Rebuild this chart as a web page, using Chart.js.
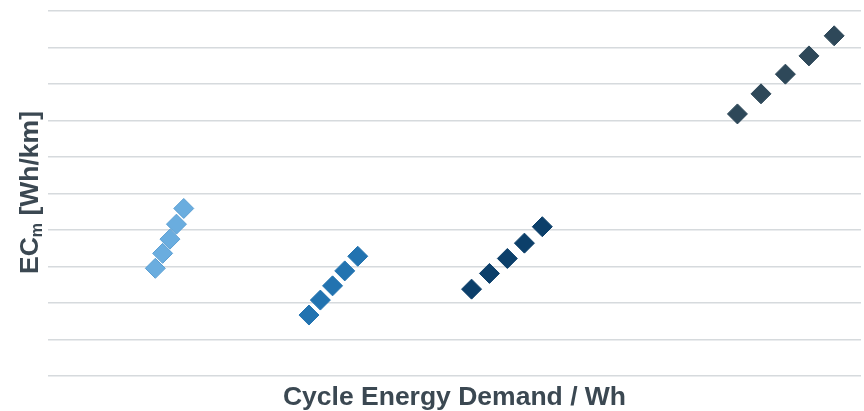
<!DOCTYPE html>
<html>
<head>
<meta charset="utf-8">
<script src="https://cdn.jsdelivr.net/npm/chart.js@4.4.1/dist/chart.umd.min.js"></script>
<style>
  html, body { margin: 0; padding: 0; background: #ffffff; }
  #wrap { width: 864px; height: 411px; position: relative; }
</style>
</head>
<body>
<div id="wrap"><canvas id="chart"></canvas></div>
<script>
// Measurement groups: cycle energy demand (x) vs. EC_m (y), arbitrary units
const seriesNames = ['Group A', 'Group B', 'Group C', 'Group D'];
const groupAx = [13.2, 14.1, 15.0, 15.8, 16.7];
const groupAy = [2.95, 3.36, 3.75, 4.16, 4.59];
const groupBx = [32.1, 33.5, 35.0, 36.5, 38.1];
const groupBy = [1.67, 2.08, 2.47, 2.88, 3.28];
const groupCx = [52.1, 54.3, 56.5, 58.6, 60.8];
const groupCy = [2.38, 2.81, 3.22, 3.64, 4.09];
const groupDx = [84.8, 87.7, 90.7, 93.6, 96.7];
const groupDy = [7.18, 7.73, 8.27, 8.77, 9.32];

const xTitle = 'Cycle Energy Demand / Wh';
const yTitleMain = 'EC';
const yTitleSub = 'm';
const yTitleUnit = ' [Wh/km]';

const fills = ['#6aaddf', '#2273b0', '#0c3f6a', '#2e4859'];
const borders = ['#5c9fd3', '#2273b0', '#0c3f6a', '#2e4859'];

function pts(xs, ys) { return xs.map((x, i) => ({ x: x, y: ys[i] })); }

const groups = [
  pts(groupAx, groupAy),
  pts(groupBx, groupBy),
  pts(groupCx, groupCy),
  pts(groupDx, groupDy)
];

const titleColor = '#3b4852';
const titleFont = 'bold 26.5px "Liberation Sans", Arial, sans-serif';
const subFont = 'bold 16px "Liberation Sans", Arial, sans-serif';

// Axis titles drawn directly so the y title can carry a subscript
const axisTitles = {
  id: 'axisTitles',
  afterDraw(chart) {
    const ctx = chart.ctx;
    const area = chart.chartArea;
    ctx.save();
    ctx.fillStyle = titleColor;
    ctx.font = titleFont;
    ctx.textAlign = 'center';
    ctx.textBaseline = 'alphabetic';
    ctx.fillText(xTitle, (area.left + area.right) / 2, 405);

    // rotated y title
    ctx.font = titleFont;
    const w1 = ctx.measureText(yTitleMain).width;
    const w3 = ctx.measureText(yTitleUnit).width;
    ctx.font = subFont;
    const w2 = ctx.measureText(yTitleSub).width;
    const total = w1 + w2 + w3;
    ctx.translate(38, (area.top + area.bottom) / 2 - 1);
    ctx.rotate(-Math.PI / 2);
    ctx.textAlign = 'left';
    let x = -total / 2;
    ctx.font = titleFont;
    ctx.fillText(yTitleMain, x, 0);
    x += w1;
    ctx.font = subFont;
    ctx.fillText(yTitleSub, x, 4);
    x += w2;
    ctx.font = titleFont;
    ctx.fillText(yTitleUnit, x, 0);
    ctx.restore();
  }
};

new Chart(document.getElementById('chart'), {
  type: 'scatter',
  data: {
    datasets: groups.map((g, i) => ({
      label: seriesNames[i],
      data: g,
      pointStyle: 'rectRot',
      pointRadius: 10,
      pointHoverRadius: 10,
      backgroundColor: fills[i],
      borderColor: borders[i],
      borderWidth: 1
    }))
  },
  options: {
    responsive: true,
    maintainAspectRatio: false,
    animation: false,
    layout: { autoPadding: false, padding: { left: 48, top: 11, right: 3, bottom: 35 } },
    plugins: {
      legend: { display: false },
      tooltip: { enabled: false }
    },
    scales: {
      x: {
        type: 'linear',
        display: false,
        min: 0,
        max: 100
      },
      y: {
        min: 0,
        max: 10,
        ticks: { display: false, stepSize: 1 },
        grid: { color: '#d6dadd', lineWidth: 1.5, drawTicks: false },
        border: { display: false },
        title: { display: false }
      }
    }
  },
  plugins: [axisTitles]
});
</script>
</body>
</html>
